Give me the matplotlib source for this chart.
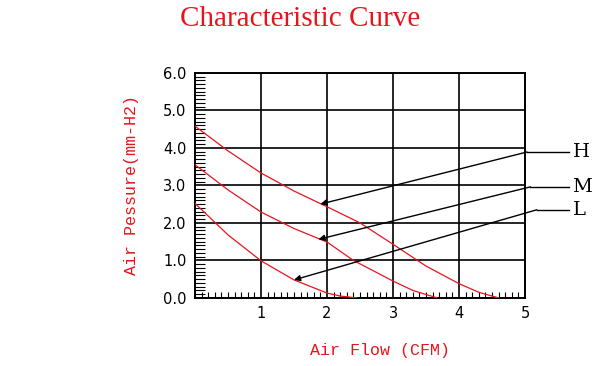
import numpy as np
import matplotlib
matplotlib.use("Agg")
import matplotlib.pyplot as plt
from matplotlib.ticker import MultipleLocator

# curves (flow CFM, pressure mm-H2O)
h_flow = [0.0, 0.5, 1.0, 1.5, 2.0, 2.5, 3.0, 3.5, 4.0, 4.3, 4.6]
h_pres = [4.58, 3.92, 3.33, 2.85, 2.43, 2.0, 1.43, 0.85, 0.38, 0.15, 0.0]
m_flow = [0.0, 0.5, 1.0, 1.5, 2.0, 2.4, 3.0, 3.3, 3.67]
m_pres = [3.55, 2.88, 2.29, 1.85, 1.49, 1.0, 0.45, 0.2, 0.0]
l_flow = [0.0, 0.5, 1.0, 1.5, 2.0, 2.2, 2.45]
l_pres = [2.52, 1.68, 0.99, 0.48, 0.13, 0.05, 0.0]

labels = ["H", "M", "L"]
# where the leader arrow touches each curve
arrow_pts = [(1.9, 2.5), (1.87, 1.56), (1.5, 0.48)]
# end of the slanted leader (x, y) in data coords
leader_ends = [(5.03, 3.89), (5.08, 2.96), (5.18, 2.35)]

mono = "Liberation Mono"
red = "#e8141c"

fig = plt.figure(figsize=(6, 3.66), dpi=100)
ax = fig.add_axes([0.325, 0.186, 0.55, 0.615])

for fx, py in [(h_flow, h_pres), (m_flow, m_pres), (l_flow, l_pres)]:
    ax.plot(fx, py, color=red, lw=0.9, zorder=3)

ax.set_xlim(0, 5)
ax.set_ylim(0, 6)
ax.xaxis.set_minor_locator(MultipleLocator(0.1))
ax.yaxis.set_minor_locator(MultipleLocator(0.1))
ax.grid(True, which="major", color="black", lw=1.2)
ax.tick_params(which="both", direction="in", colors="black", labelsize=10.5)
ax.tick_params(which="major", length=0, pad=6)
ax.tick_params(axis="x", which="minor", length=4, width=0.8)
ax.tick_params(axis="y", which="minor", length=7, width=0.8)
ax.set_xticks([1, 2, 3, 4, 5])
ax.set_yticks(np.arange(0, 7))
ax.set_yticklabels(["%.1f" % v for v in range(7)])
for s in ax.spines.values():
    s.set_linewidth(1.4)

ax.set_xlabel("Air Flow (CFM)", family=mono, color=red, fontsize=12)
ax.xaxis.set_label_coords(0.56, -0.2)
ax.set_ylabel("Air Pessure(mm-H2)", family=mono, color=red, fontsize=12)
ax.yaxis.set_label_coords(-0.17, 0.5)
fig.text(0.5, 0.948, "Characteristic Curve", family="Liberation Serif",
         color=red, fontsize=21, ha="center", va="center")

for lab, (ax_x, ax_y), (ex, ey) in zip(labels, arrow_pts, leader_ends):
    ax.annotate("", xy=(ax_x, ax_y), xytext=(ex, ey),
                arrowprops=dict(arrowstyle="-|>", color="black", lw=1.0,
                                mutation_scale=9, shrinkA=0, shrinkB=0),
                annotation_clip=False)
    ax.plot([ex, 5.66], [ey, ey], color="black", lw=1.0, clip_on=False)
    ax.text(5.72, ey, lab, family="DejaVu Serif", fontsize=14,
            va="center", ha="left", color="black")

fig.savefig("out.png", dpi=100, facecolor="white")
